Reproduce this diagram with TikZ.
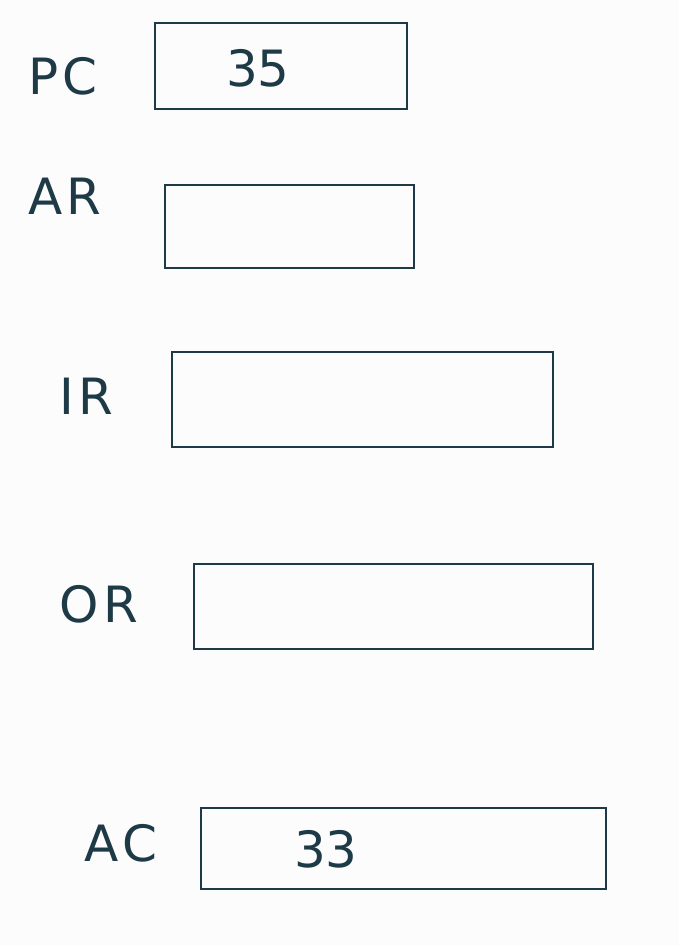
\documentclass[tikz,border=0pt]{standalone}
\usepackage{fontspec}
\setmainfont{DejaVu Sans}
\definecolor{ink}{HTML}{1D3A46}
\definecolor{paper}{HTML}{FCFCFC}
\begin{document}
\begin{tikzpicture}[x=1pt,y=-1pt,
  reg/.style={draw=ink,line width=2.4pt,fill=none},
  lbl/.style={text=ink,inner sep=0pt,font=\fontsize{50}{56}\selectfont\addfontfeature{LetterSpace=8}},
  val/.style={text=ink,inner sep=0pt,font=\fontsize{50}{56}\selectfont}]
\fill[paper] (0,0) rectangle (679,945);
\useasboundingbox (0,0) rectangle (679,945);
\draw[reg] (155,23) rectangle (407,109);
\node[val] (pcv) at (258,68) {35};
\node[lbl] (pcl) at (63,76) {PC};
\draw[reg] (165,185) rectangle (414,268);
\node[lbl] (arl) at (65,196) {AR};
\draw[reg] (172,352) rectangle (553,447);
\node[lbl] (irl) at (86,396) {IR};
\draw[reg] (194,564) rectangle (593,649);
\node[lbl] (orl) at (99,604) {OR};
\draw[reg] (201,808) rectangle (606,889);
\node[val] (acv) at (326,849) {33};
\node[lbl] (acl) at (121,843) {AC};
\end{tikzpicture}
\end{document}
